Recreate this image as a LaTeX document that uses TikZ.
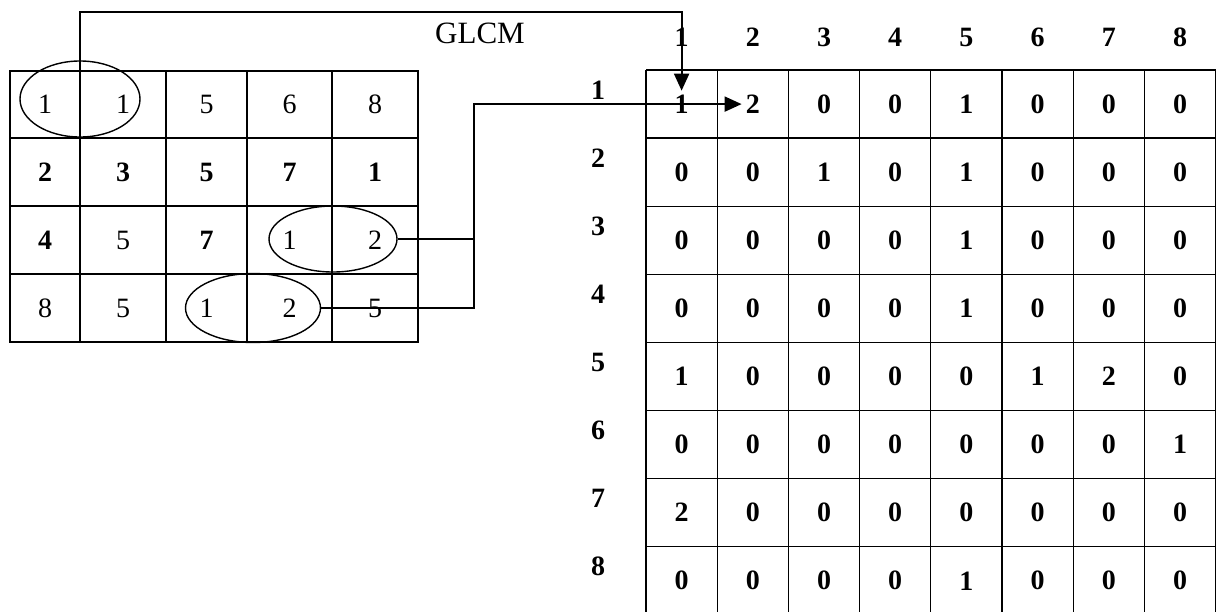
\documentclass[tikz,border=0pt]{standalone}
\usepackage{fontspec}
\setmainfont{Liberation Serif}
\usetikzlibrary{shapes.geometric,arrows.meta}
\begin{document}
\begin{tikzpicture}[x=1pt,y=-1pt,
	num/.style={inner sep=4pt,font=\fontsize{28}{30}\selectfont},
	val/.style={inner sep=4pt,font=\fontsize{28}{30}\selectfont\bfseries},
	rule/.style={line width=1.3pt},
	oval/.style={draw,ellipse,line width=1.4pt,inner sep=0pt},
	link/.style={line width=2pt},
	>={Triangle[length=17pt,width=15pt]}]
	\clip (0,0) rectangle (1216,611);

	% image
	\draw[rule] (10,71) rectangle (418,342);
	\foreach \x in {80,166,247,332} \draw[rule] (\x,71) -- (\x,342);
	\foreach \y in {138,206,274} \draw[rule] (10,\y) -- (418,\y);
	\foreach \row [count=\r] in {{1,1,5,6,8},{\bfseries 2,\bfseries 3,\bfseries 5,\bfseries 7,\bfseries 1},{\bfseries 4,5,\bfseries 7,1,2},{8,5,1,2,5}}
		\foreach \v [count=\c] in \row
			\path (0,0) \pgfextra{
				\pgfmathsetmacro\px{{45,123,206.5,289.5,375}[\c-1]}
				\pgfmathsetmacro\py{{104.5,172,240,308}[\r-1]}}
				node[num] (p\r\c) at (\px,\py) {\v};

	% pairs
	\node[oval,minimum width=120pt,minimum height=76pt] (e1) at (80,99) {};
	\node[oval,minimum width=128pt,minimum height=66pt] (e2) at (333,239) {};
	\node[oval,minimum width=135pt,minimum height=69pt] (e3) at (253,308) {};

	% GLCM
	\node[font=\fontsize{31}{34}\selectfont] (glcm) at (480,33) {GLCM};
	\foreach \i in {0,...,8} {
		\draw[rule] (646+71.2*\i,70) -- (646+71.2*\i,640);
		\draw[rule] (646,70+68.1*\i) -- (1216,70+68.1*\i);
	}
	\foreach \i in {1,...,8} {
		\node[val] (c\i) at (646+71.2*\i-35.6,37) {\i};
		\node[val] (r\i) at (598,90+68.1*\i-68.1) {\i};
	}
	\foreach \row [count=\r] in {{1,2,0,0,1,0,0,0},{0,0,1,0,1,0,0,0},{0,0,0,0,1,0,0,0},{0,0,0,0,1,0,0,0},{1,0,0,0,0,1,2,0},{0,0,0,0,0,0,0,1},{2,0,0,0,0,0,0,0},{0,0,0,0,1,0,0,0}}
		\foreach \v [count=\c] in \row
			\node[val] (v\r\c) at (646+71.2*\c-35.6,70+68.1*\r-34) {\v};

	% links
	\coordinate (top) at (0,12);
	\coordinate (jn) at (474,0);
	\draw[link,->] (e1.south) -- (e1.south |- top) -| (v11.north);
	\draw[link] (e2.east) -- (e2.east -| jn);
	\draw[link,->] (e3.east) -- (e3.east -| jn) |- (v12.west);
\end{tikzpicture}
\end{document}
